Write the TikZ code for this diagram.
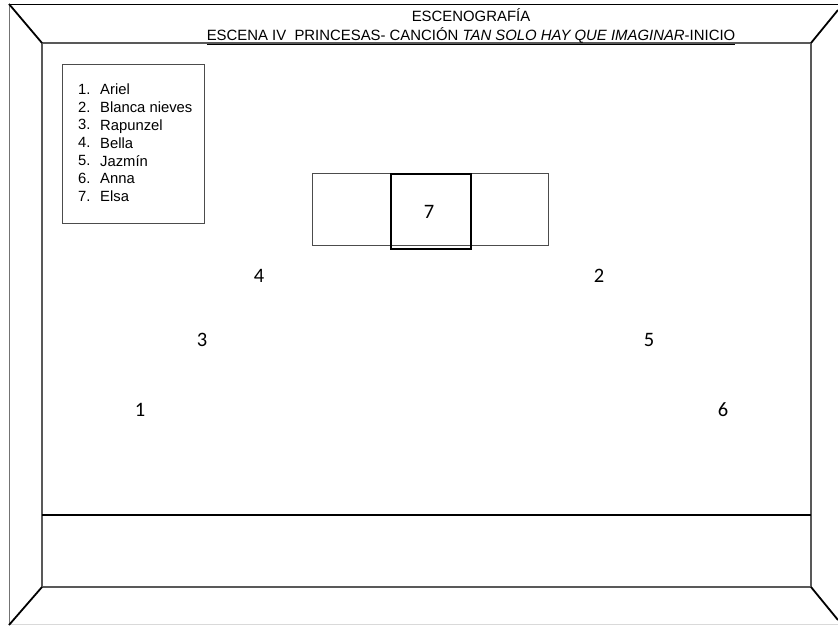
\documentclass[tikz,border=0pt]{standalone}
\usepackage{fontspec}
\setmainfont{Liberation Sans}
\newfontfamily\numfont{Carlito}
\begin{document}
\begin{tikzpicture}[x=1pt,y=-1pt,
  inner/.style={draw=black!65,line width=1.1pt},
  diag/.style={draw=black,line width=1.8pt},
  outerl/.style={draw=black!55,line width=0.9pt},
  spot/.style={font=\numfont\fontsize{20.5}{24}\selectfont,inner sep=0pt},
  legtext/.style={font=\fontsize{14.8}{17.8}\selectfont,anchor=north west,inner sep=0pt,align=left}]
\useasboundingbox (0,0) rectangle (838,625);
% outer frame
\draw[draw=black,line width=1pt] (9,4) -- (838,4);
\draw[outerl] (9,4) -- (9,625);
\draw[draw=black!15,line width=0.8pt] (9,624) -- (838,624);
% inner rectangle
\draw[inner] (42,43) rectangle (811,587);
% diagonals
\draw[diag] (9,4) -- (42,43);
\draw[diag] (838,10) -- (811,43);
\draw[diag] (9,625) -- (42,587);
\draw[diag] (811,587) -- (838,620);
% front edge of stage
\draw[draw=black,line width=1.8pt] (42,515) -- (811,515);
% title
\node[font=\fontsize{14.9}{17}\selectfont,inner sep=0pt] (t1) at (471,15) {ESCENOGRAFÍA};
\node[font=\fontsize{14.9}{17}\selectfont,inner sep=0pt,anchor=base] (t2) at (471,40) {\underline{ESCENA IV\ \ PRINCESAS- CANCIÓN \textit{TAN SOLO HAY QUE IMAGINAR}-INICIO}};
% legend
\node[draw=black!70,line width=0.9pt,minimum width=142pt,minimum height=159pt,anchor=north west,inner sep=0pt] (leg) at (62,64) {};
\node[legtext] (legn) at (78,84) {1.\\2.\\3.\\4.\\5.\\6.\\7.};
\node[legtext] (legt) at (100,84) {Ariel\\Blanca nieves\\Rapunzel\\Bella\\Jazmín\\Anna\\Elsa};
% platforms
\node[draw=black!70,line width=0.9pt,minimum width=236pt,minimum height=72pt,anchor=north west,inner sep=0pt] (plat) at (312,173) {};
\node[draw=black,line width=1.8pt,minimum width=80pt,minimum height=75pt,anchor=north west,inner sep=0pt] (c7) at (390,173) {};
\node[spot] (p7) at (429,212) {7};
% positions
\node[spot] (p4) at (259,276) {4};
\node[spot] (p2) at (599,276) {2};
\node[spot] (p3) at (202,340) {3};
\node[spot] (p5) at (649,340) {5};
\node[spot] (p1) at (140,410) {1};
\node[spot] (p6) at (723,410) {6};
\end{tikzpicture}
\end{document}
